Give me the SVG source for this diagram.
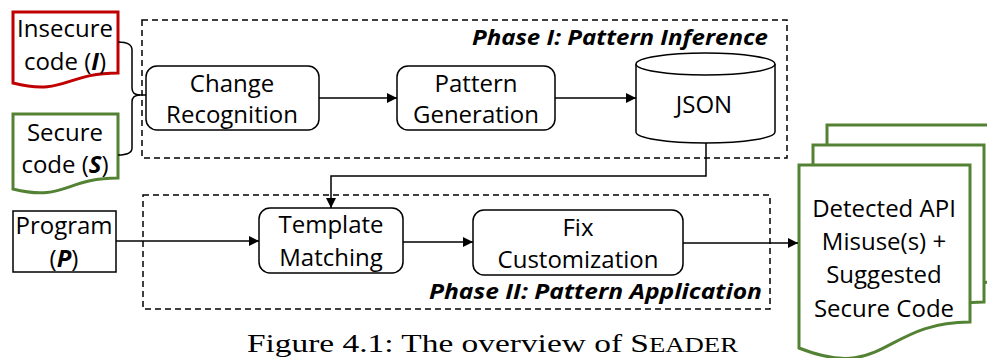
<svg xmlns="http://www.w3.org/2000/svg" width="987" height="358" viewBox="0 0 987 358">
  <defs>
    <marker id="arrow" viewBox="0 0 10 10" refX="10" refY="5" markerWidth="10" markerHeight="10" markerUnits="userSpaceOnUse" orient="auto">
      <path d="M0,0 L10,5 L0,10 Z" fill="#000"/>
    </marker>
    <style>
      .lbl { font-family: "Open Sans", "Noto Sans", sans-serif; font-size: 24px; fill: #000; text-anchor: middle; }
      .phase { font-family: "Open Sans", "Noto Sans", sans-serif; font-size: 22px; font-weight: bold; font-style: italic; fill: #000; text-anchor: end; }
      .box { fill: #fff; stroke: #000; stroke-width: 1.5; }
      .frame { fill: none; stroke: #000; stroke-width: 1.5; stroke-dasharray: 6 4; }
      .doc-red { fill: #fff; stroke: #C00000; stroke-width: 3; }
      .doc-green { fill: #fff; stroke: #548235; stroke-width: 3; }
      .conn { fill: none; stroke: #000; stroke-width: 1.5; }
      .caption { font-family: "Liberation Serif", "DejaVu Serif", serif; font-size: 25px; fill: #000; }
    </style>
  </defs>
  <rect width="987" height="358" fill="#fff"/>

  <!-- phase frames -->
  <g id="phase1">
    <rect class="frame" x="142" y="20" width="645" height="138"/>
    <text class="phase" x="768" y="45" textLength="296" lengthAdjust="spacingAndGlyphs">Phase I: Pattern Inference</text>
  </g>
  <g id="phase2">
    <rect class="frame" x="143" y="195" width="627" height="114"/>
    <text class="phase" x="762" y="299" textLength="333" lengthAdjust="spacingAndGlyphs">Phase II: Pattern Application</text>
  </g>

  <!-- inputs -->
  <g id="insecure">
    <path class="doc-red" d="M13,12 H118 V73 C65,73 65,96 13,83 Z"/>
    <text class="lbl" x="65" y="37">Insecure</text>
    <text class="lbl" x="65" y="70">code (<tspan font-weight="bold" font-style="italic">I</tspan>)</text>
  </g>
  <g id="secure">
    <path class="doc-green" d="M13,114 H118 V178 C65,178 65,202 13,189 Z"/>
    <text class="lbl" x="65" y="141">Secure</text>
    <text class="lbl" x="65" y="173">code (<tspan font-weight="bold" font-style="italic">S</tspan>)</text>
  </g>
  <g id="program">
    <rect class="box" x="13" y="211" width="103" height="61"/>
    <text class="lbl" x="64" y="234">Program</text>
    <text class="lbl" x="64" y="267">(<tspan font-weight="bold" font-style="italic">P</tspan>)</text>
  </g>

  <!-- processing steps -->
  <g id="change-recognition">
    <rect class="box" x="146" y="66" width="173" height="64" rx="11"/>
    <text class="lbl" x="232" y="92">Change</text>
    <text class="lbl" x="232" y="123">Recognition</text>
  </g>
  <g id="pattern-generation">
    <rect class="box" x="397" y="66" width="158" height="64" rx="11"/>
    <text class="lbl" x="476" y="92">Pattern</text>
    <text class="lbl" x="476" y="123">Generation</text>
  </g>
  <g id="json">
    <path class="box" d="M636,64 V132 A69.5,11 0 0 0 775,132 V64"/>
    <ellipse class="box" cx="705.5" cy="64" rx="69.5" ry="11"/>
    <text class="lbl" x="704" y="113">JSON</text>
  </g>
  <g id="template-matching">
    <rect class="box" x="259" y="208" width="144" height="65" rx="11"/>
    <text class="lbl" x="331" y="233">Template</text>
    <text class="lbl" x="331" y="266">Matching</text>
  </g>
  <g id="fix-customization">
    <rect class="box" x="473" y="210" width="210" height="65" rx="11"/>
    <text class="lbl" x="578" y="236">Fix</text>
    <text class="lbl" x="578" y="268">Customization</text>
  </g>

  <!-- output stack -->
  <g id="output">
    <path class="doc-green" d="M827,125 H998 V282 C912,282 912,342 827,308 Z"/>
    <path class="doc-green" d="M813,145 H984 V302 C898,302 898,362 813,328 Z"/>
    <path class="doc-green" d="M799,165 H970 V322 C884,322 884,382 799,348 Z"/>
    <text class="lbl" x="884" y="217">Detected API</text>
    <text class="lbl" x="884" y="250">Misuse(s) +</text>
    <text class="lbl" x="884" y="283">Suggested</text>
    <text class="lbl" x="884" y="317">Secure Code</text>
  </g>

  <!-- connectors -->
  <g id="connectors">
    <path class="conn" d="M118,42 Q132,42 132,50 V88 Q132,95 140,95 Q132,95 132,102 V148 Q132,155 118,155"/>
    <line class="conn" x1="138" y1="95" x2="146" y2="95"/>
    <line class="conn" x1="319" y1="98" x2="397" y2="98" marker-end="url(#arrow)"/>
    <line class="conn" x1="555" y1="98" x2="636" y2="98" marker-end="url(#arrow)"/>
    <path class="conn" d="M706,143 V176 H331 V208" marker-end="url(#arrow)"/>
    <line class="conn" x1="116" y1="241" x2="259" y2="241" marker-end="url(#arrow)"/>
    <line class="conn" x1="403" y1="242" x2="473" y2="242" marker-end="url(#arrow)"/>
    <line class="conn" x1="683" y1="243" x2="798" y2="243" marker-end="url(#arrow)"/>
  </g>

  <!-- caption -->
  <text class="caption" x="247" y="352" textLength="491" lengthAdjust="spacingAndGlyphs">Figure 4.1: The overview of S<tspan font-size="20">EADER</tspan></text>
</svg>
